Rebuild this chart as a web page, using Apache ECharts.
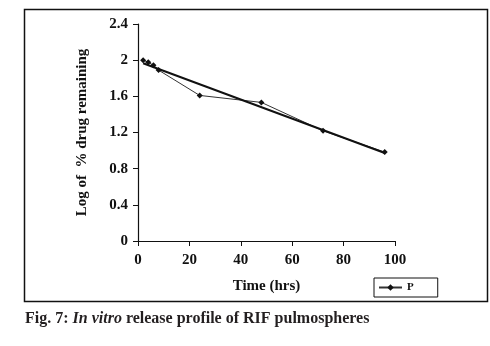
<!DOCTYPE html>
<html>
<head>
<meta charset="utf-8">
<script src="https://cdn.jsdelivr.net/npm/echarts@6/dist/echarts.min.js"></script>
<style>
  html, body { margin: 0; padding: 0; background: #fff; }
  #chart { width: 490px; height: 346px; }
</style>
</head>
<body>
<div id="chart"></div>
<script>
// Release time points (hours) and log of % drug remaining
const timeHrs = [2, 4, 6, 8, 24, 48, 72, 96];
const logRemaining = [2.0, 1.977, 1.943, 1.89, 1.61, 1.533, 1.219, 0.983];
const seriesName = 'P';

// Least-squares linear trend through the measured points
function linearFit(xs, ys) {
  const n = xs.length;
  const mx = xs.reduce((a, b) => a + b, 0) / n;
  const my = ys.reduce((a, b) => a + b, 0) / n;
  let sxy = 0, sxx = 0;
  for (let i = 0; i < n; i++) {
    sxy += (xs[i] - mx) * (ys[i] - my);
    sxx += (xs[i] - mx) * (xs[i] - mx);
  }
  const slope = sxy / sxx;
  return { slope, intercept: my - slope * mx };
}
const fit = linearFit(timeHrs, logRemaining);
const trendX = [timeHrs[0], timeHrs[timeHrs.length - 1]];
const trendData = trendX.map(x => [x, fit.intercept + fit.slope * x]);

const serif = '"Liberation Serif", "Times New Roman", serif';
const ink = '#111';

const chart = echarts.init(document.getElementById('chart'), null, { renderer: 'canvas' });
chart.setOption({
  animation: false,
  backgroundColor: '#fff',
  grid: { left: 138, right: 95, top: 24, bottom: 105, containLabel: false },
  xAxis: {
    type: 'value', min: 0, max: 100, interval: 20,
    name: 'Time (hrs)', nameLocation: 'middle', nameGap: 38,
    nameTextStyle: { fontFamily: serif, fontWeight: 'bold', fontSize: 15, color: ink },
    axisLine: { lineStyle: { color: ink, width: 1.2 } },
    axisTick: { show: true, length: 5, lineStyle: { color: ink } },
    axisLabel: { fontFamily: serif, fontWeight: 'bold', fontSize: 15, color: ink, margin: 12 },
    splitLine: { show: false }
  },
  yAxis: {
    type: 'value', min: 0, max: 2.4, interval: 0.4,
    name: 'Log of  % drug remaining', nameLocation: 'middle', nameGap: 48,
    nameTextStyle: { fontFamily: serif, fontWeight: 'bold', fontSize: 15, color: ink },
    axisLine: { show: true, lineStyle: { color: ink, width: 1.2 } },
    axisTick: { show: true, length: 5, lineStyle: { color: ink } },
    axisLabel: { fontFamily: serif, fontWeight: 'bold', fontSize: 15, color: ink, margin: 10 },
    splitLine: { show: false }
  },
  legend: {
    data: [seriesName],
    left: 374, top: 278,
    padding: [4, 24, 4, 4],
    borderColor: ink, borderWidth: 1,
    itemWidth: 23, itemHeight: 8, itemGap: 3,
    textStyle: { fontFamily: serif, fontWeight: 'bold', fontSize: 11, color: ink }
  },
  series: [
    {
      name: seriesName, type: 'line',
      data: timeHrs.map((x, i) => [x, logRemaining[i]]),
      symbol: 'diamond', symbolSize: 6,
      itemStyle: { color: '#111' },
      lineStyle: { color: '#333', width: 1 }
    },
    {
      name: 'trend', type: 'line',
      data: trendData,
      symbol: 'none',
      lineStyle: { color: '#111', width: 2 },
      silent: true
    }
  ],
  graphic: [
    {
      type: 'rect', shape: { x: 24.5, y: 9.5, width: 463, height: 292 },
      style: { fill: 'none', stroke: ink, lineWidth: 1.5 }, z: 0
    },
    {
      type: 'text', left: 25, top: 311,
      style: {
        text: '{b|Fig. 7: }{i|In vitro}{b| release profile of RIF pulmospheres}',
        rich: {
          b: { fontFamily: serif, fontWeight: 'bold', fontSize: 16, fill: '#231f20' },
          i: { fontFamily: serif, fontWeight: 'bold', fontStyle: 'italic', fontSize: 16, fill: '#231f20' }
        }
      }
    }
  ]
});
</script>
</body>
</html>
